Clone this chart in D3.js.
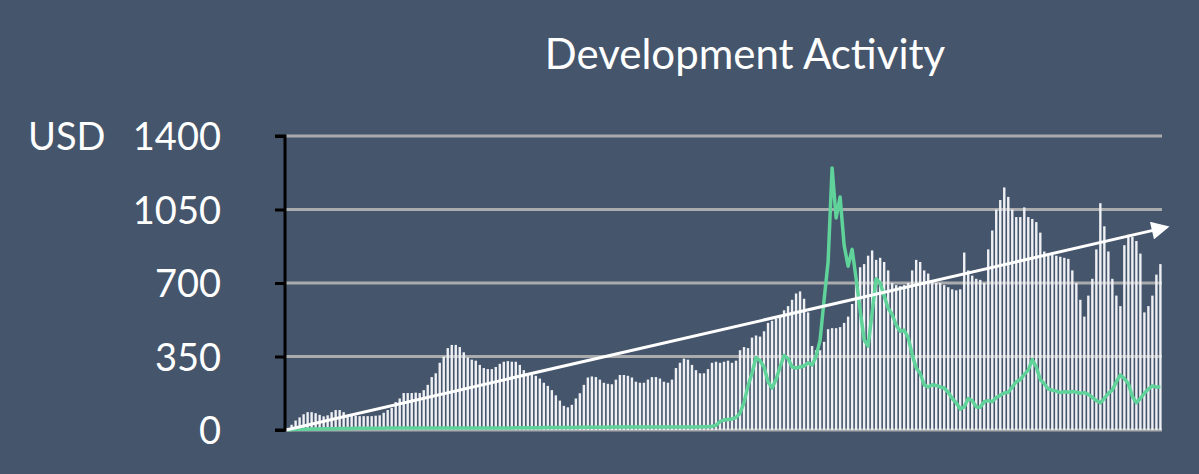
<!DOCTYPE html>
<html>
<head>
<meta charset="utf-8">
<script src="https://cdn.jsdelivr.net/npm/d3@7"></script>
<style>
  html, body { margin: 0; padding: 0; background: #45556b; }
  svg { display: block; }
</style>
</head>
<body>
<svg id="chart" width="1199" height="474"></svg>
<script>
// ---- Data ----
const title = "Development Activity";
const unitLabel = "USD";
const yTicks = [0, 350, 700, 1050, 1400];

// Bars: development activity (one per period)
const barValues = [
  10, 25, 45, 60, 75, 85, 85, 80, 72, 65,
  70, 85, 95, 95, 85, 70, 68, 68, 66, 66,
  66, 66, 68, 70, 82, 95, 105, 133, 150, 176,
  176, 176, 178, 176, 190, 215, 252, 270, 320, 350,
  390, 405, 405, 395, 370, 345, 335, 330, 310, 295,
  290, 290, 300, 315, 325, 328, 325, 325, 310, 285,
  265, 262, 258, 245, 225, 210, 190, 165, 140, 115,
  108, 120, 150, 175, 215, 250, 255, 252, 240, 225,
  220, 218, 240, 262, 262, 258, 250, 230, 225, 225,
  240, 252, 252, 245, 230, 225, 240, 295, 320, 340,
  335, 310, 285, 270, 270, 290, 320, 325, 320, 325,
  330, 320, 330, 380, 395, 390, 440, 450, 445, 470,
  510, 520, 530, 545, 570, 590, 620, 650, 660, 625,
  560, 400, 380, 380, 420, 480, 485, 485, 490, 510,
  540, 600, 700, 775, 790, 830, 855, 810, 820, 800,
  760, 700, 690, 685, 690, 700, 760, 810, 800, 760,
  745, 710, 700, 700, 690, 680, 670, 665, 670, 845,
  760, 735, 720, 715, 700, 860, 950, 1050, 1095, 1155,
  1110, 1050, 1014, 1014, 1060, 1014, 1005, 990, 940, 850,
  840, 835, 830, 825, 820, 815, 760, 700, 620, 540,
  640, 720, 860, 1080, 970, 850, 720, 640, 590, 880,
  930, 920, 900, 840, 560, 590, 640, 740, 790
];

// Green line: price (same periods)
const lineValues = [
  0, 2, 3, 3, 4, 4, 5, 5, 5, 6,
  6, 6, 6, 7, 7, 7, 7, 8, 8, 8,
  8, 8, 8, 8, 8, 9, 9, 9, 9, 9,
  9, 9, 9, 10, 10, 10, 10, 10, 10, 10,
  10, 10, 10, 10, 10, 10, 10, 10, 10, 10,
  10, 10, 10, 10, 10, 10, 10, 11, 11, 11,
  11, 11, 11, 11, 12, 12, 12, 12, 12, 12,
  12, 12, 12, 13, 13, 13, 13, 13, 13, 13,
  13, 14, 14, 14, 14, 14, 14, 14, 14, 14,
  14, 14, 14, 14, 14, 14, 14, 14, 14, 14,
  14, 14, 14, 15, 15, 16, 18, 22, 40, 48,
  50, 52, 60, 80, 130, 210, 270, 345, 330, 300,
  230, 200, 240, 300, 355, 340, 300, 295, 300, 305,
  320, 310, 350, 428, 620, 800, 1248, 1010, 1110, 880,
  780, 860, 720, 570, 430, 400, 560, 720, 700, 640,
  580, 550, 500, 470, 475, 440, 360, 295, 270, 215,
  205, 215, 212, 205, 200, 180, 150, 130, 100, 110,
  150, 140, 110, 108, 135, 140, 135, 155, 165, 176,
  180, 205, 230, 240, 265, 285, 335, 300, 240, 220,
  195, 190, 185, 178, 182, 180, 183, 180, 175, 178,
  170, 155, 140, 130, 150, 175, 190, 230, 262, 245,
  220, 160, 130, 150, 175, 195, 210, 205, 205
];

// Trend arrow: start and end values
const trendValues = [0, 965];

// ---- Layout ----
const W = 1199, H = 474;
const plot = { left: 286, right: 1162, top: 136, bottom: 430 };

const svg = d3.select("#chart");
svg.append("rect").attr("width", W).attr("height", H).attr("fill", "#45556b");

const x = d3.scaleBand()
  .domain(d3.range(barValues.length))
  .range([plot.left, plot.right])
  .paddingInner(0.4)
  .paddingOuter(0.1);

const y = d3.scaleLinear()
  .domain([0, 1400])
  .range([plot.bottom, plot.top]);

// Gridlines
svg.append("g")
  .selectAll("line")
  .data(yTicks)
  .join("line")
  .attr("x1", plot.left)
  .attr("x2", plot.right)
  .attr("y1", d => y(d))
  .attr("y2", d => y(d))
  .attr("stroke", "#a9abad")
  .attr("stroke-width", 3);

// Bars
svg.append("g")
  .selectAll("rect")
  .data(barValues)
  .join("rect")
  .attr("x", (d, i) => x(i))
  .attr("width", x.bandwidth())
  .attr("y", d => y(d))
  .attr("height", d => y(0) - y(d))
  .attr("fill", "#eef0f4");

// Green line
const line = d3.line()
  .x((d, i) => x(i) + x.bandwidth() / 2)
  .y(d => y(d));

svg.append("path")
  .datum(lineValues)
  .attr("d", line)
  .attr("fill", "none")
  .attr("stroke", "#5fd39a")
  .attr("stroke-width", 3.5)
  .attr("stroke-linejoin", "round");

// Trend arrow
const defs = svg.append("defs");
defs.append("marker")
  .attr("id", "arrow")
  .attr("viewBox", "0 0 10 10")
  .attr("refX", 8)
  .attr("refY", 5)
  .attr("markerWidth", 6.5)
  .attr("markerHeight", 6)
  .attr("markerUnits", "strokeWidth")
  .attr("orient", "auto")
  .append("path")
  .attr("d", "M0,0 L10,5 L0,10 Z")
  .attr("fill", "#ffffff");

const xt = d3.scaleLinear().domain([0, 1]).range([plot.left, plot.right + 4]);
svg.append("line")
  .attr("x1", xt(0)).attr("y1", y(trendValues[0]))
  .attr("x2", xt(1)).attr("y2", y(trendValues[1]))
  .attr("stroke", "#ffffff")
  .attr("stroke-width", 3)
  .attr("marker-end", "url(#arrow)");

// Y axis
const yAxis = d3.axisLeft(y)
  .tickValues(yTicks)
  .tickSize(10)
  .tickPadding(54)
  .tickFormat(d3.format("d"));

const gy = svg.append("g")
  .attr("transform", `translate(${plot.left - 1},0)`)
  .call(yAxis);
gy.select(".domain")
  .attr("stroke", "#000")
  .attr("stroke-width", 3)
  .attr("d", `M-10,${plot.top}H0V${plot.bottom}H-10`);
gy.selectAll(".tick line").attr("stroke", "#000").attr("stroke-width", 3);
gy.selectAll(".tick text")
  .attr("fill", "#ffffff")
  .attr("font-family", "Lato, 'Open Sans', sans-serif")
  .attr("font-size", 38)
  .attr("dy", "0.36em");

svg.append("text")
  .attr("x", 28)
  .attr("y", y(1400))
  .attr("dy", "0.36em")
  .attr("fill", "#ffffff")
  .attr("font-family", "Lato, 'Open Sans', sans-serif")
  .attr("font-size", 38)
  .text(unitLabel);

// Title
svg.append("text")
  .attr("x", 745)
  .attr("y", 69)
  .attr("text-anchor", "middle")
  .attr("fill", "#ffffff")
  .attr("font-family", "Lato, 'Open Sans', sans-serif")
  .attr("font-size", 42)
  .text(title);
</script>
</body>
</html>
